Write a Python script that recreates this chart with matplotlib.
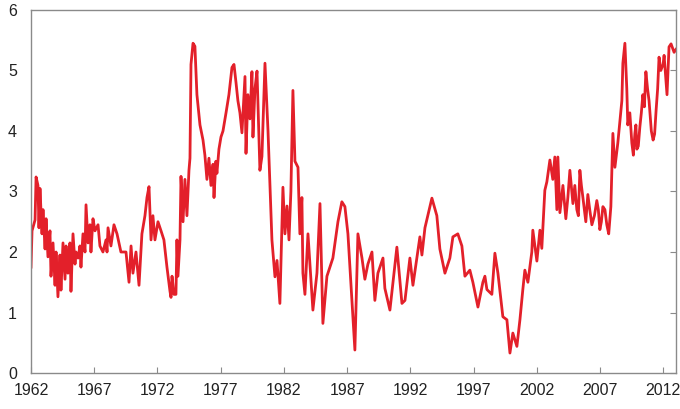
import matplotlib.pyplot as plt

# readings taken off the chart (decimal year, value)
years = [
    1962.00, 1962.08, 1962.32, 1962.40, 1962.55, 1962.63, 1962.71, 1962.87, 1962.95,
    1963.11, 1963.19, 1963.34, 1963.50, 1963.58, 1963.74, 1963.90, 1963.98,
    1964.13, 1964.29, 1964.37, 1964.53, 1964.69, 1964.77, 1964.92,
    1965.08, 1965.16, 1965.32, 1965.48, 1965.56, 1965.72, 1965.87, 1965.95,
    1966.11, 1966.27, 1966.35, 1966.51, 1966.66, 1966.74, 1966.90,
    1967.06, 1967.30, 1967.45, 1967.69, 1967.93,
    1968.01, 1968.09, 1968.32, 1968.56, 1968.80, 1969.11, 1969.51, 1969.75, 1969.91,
    1970.06, 1970.30, 1970.54, 1970.77, 1971.01, 1971.17, 1971.33, 1971.49, 1971.64,
    1971.80, 1972.04, 1972.28, 1972.51, 1972.75, 1972.99, 1973.07, 1973.15, 1973.30,
    1973.46, 1973.54, 1973.62, 1973.78, 1973.86, 1974.02, 1974.17, 1974.33, 1974.49,
    1974.57, 1974.65, 1974.81, 1974.96, 1975.12, 1975.36, 1975.60, 1975.75, 1975.91,
    1976.07, 1976.23, 1976.39, 1976.47, 1976.62, 1976.70, 1976.86, 1977.02, 1977.18,
    1977.42, 1977.65, 1977.89, 1978.05, 1978.21, 1978.36, 1978.52, 1978.68, 1978.92,
    1979.00, 1979.15, 1979.31, 1979.47, 1979.55, 1979.71, 1979.87, 1980.10, 1980.26,
    1980.50, 1980.74, 1980.89, 1981.05, 1981.29, 1981.45, 1981.60, 1981.68, 1981.92,
    1982.08, 1982.24, 1982.40, 1982.55, 1982.71, 1982.87, 1983.11, 1983.26, 1983.42,
    1983.50, 1983.66, 1983.90, 1984.21, 1984.29, 1984.61, 1984.85, 1985.08, 1985.40,
    1985.87, 1986.27, 1986.58, 1986.82, 1987.06, 1987.61, 1987.85, 1988.17, 1988.40,
    1988.64, 1988.96, 1989.19, 1989.43, 1989.83, 1989.98, 1990.38, 1990.93, 1991.33,
    1991.57, 1991.96, 1992.20, 1992.75, 1992.91, 1993.15, 1993.70, 1994.09, 1994.33,
    1994.73, 1995.12, 1995.36, 1995.75, 1996.07, 1996.31, 1996.70, 1996.94, 1997.34,
    1997.73, 1997.89, 1998.05, 1998.44, 1998.68, 1998.92, 1999.31, 1999.63, 1999.87,
    2000.10, 2000.42, 2000.66, 2000.89, 2001.05, 2001.29, 2001.60, 2001.68, 2002.00,
    2002.24, 2002.39, 2002.63, 2002.79, 2003.03, 2003.26, 2003.42, 2003.58, 2003.66,
    2003.82, 2004.06, 2004.29, 2004.45, 2004.61, 2004.85, 2005.00, 2005.16, 2005.28,
    2005.40, 2005.52, 2005.64, 2005.87, 2006.03, 2006.18, 2006.35, 2006.55, 2006.74,
    2006.86, 2006.98, 2007.10, 2007.22, 2007.38, 2007.53, 2007.68, 2007.85, 2008.01,
    2008.17, 2008.40, 2008.72, 2008.80, 2008.96, 2009.11, 2009.19, 2009.35, 2009.51,
    2009.63, 2009.75, 2009.83, 2009.91, 2010.02, 2010.14, 2010.26, 2010.38, 2010.50,
    2010.62, 2010.75, 2010.87, 2011.05, 2011.19, 2011.31, 2011.43, 2011.55, 2011.66,
    2011.80, 2011.98, 2012.06, 2012.18, 2012.29, 2012.45, 2012.61, 2012.85, 2013.00,
]
values = [
    1.75, 2.35, 2.53, 3.24, 3.10, 2.40, 3.05, 2.30, 2.70,
    2.05, 2.55, 1.92, 2.35, 1.60, 2.15, 1.45, 2.00,
    1.26, 1.95, 1.37, 2.15, 1.55, 2.10, 1.65,
    2.15, 1.35, 2.30, 1.80, 2.00, 1.90, 2.10, 1.75,
    2.30, 2.00, 2.78, 2.15, 2.45, 2.00, 2.55,
    2.35, 2.45, 2.10, 2.00, 2.20,
    2.00, 2.40, 2.10, 2.45, 2.30, 2.00, 2.00, 1.50, 2.10,
    1.65, 2.00, 1.45, 2.30, 2.60, 2.90, 3.08, 2.20, 2.60,
    2.20, 2.50, 2.35, 2.20, 1.75, 1.35, 1.25, 1.60, 1.30,
    1.30, 2.20, 1.60, 2.20, 3.25, 2.50, 3.20, 2.60, 3.35,
    3.55, 5.10, 5.45, 5.40, 4.60, 4.10, 3.85, 3.60, 3.20,
    3.55, 3.10, 3.45, 2.90, 3.50, 3.30, 3.70, 3.90, 4.00,
    4.30, 4.60, 5.05, 5.10, 4.80, 4.50, 4.30, 3.97, 4.90,
    3.63, 4.60, 4.20, 4.98, 3.90, 4.70, 4.99, 3.35, 3.58,
    5.12, 4.00, 3.14, 2.20, 1.59, 1.86, 1.40, 1.15, 3.07,
    2.30, 2.76, 2.20, 3.00, 4.67, 3.50, 3.40, 2.30, 2.90,
    1.65, 1.30, 2.30, 1.30, 1.04, 1.65, 2.80, 0.82, 1.60,
    1.90, 2.50, 2.83, 2.75, 2.30, 0.38, 2.30, 1.90, 1.55,
    1.80, 2.00, 1.20, 1.65, 1.90, 1.40, 1.04, 2.08, 1.15,
    1.20, 1.90, 1.45, 2.25, 1.95, 2.40, 2.89, 2.60, 2.05,
    1.65, 1.90, 2.25, 2.30, 2.10, 1.60, 1.70, 1.50, 1.09,
    1.50, 1.60, 1.38, 1.30, 1.98, 1.65, 0.93, 0.88, 0.33,
    0.66, 0.44, 0.88, 1.38, 1.70, 1.50, 2.00, 2.36, 1.85,
    2.36, 2.06, 3.02, 3.16, 3.52, 3.20, 3.57, 2.70, 3.57,
    2.65, 3.10, 2.55, 2.90, 3.35, 2.80, 3.10, 2.70, 2.60,
    3.35, 3.10, 2.90, 2.50, 2.95, 2.70, 2.45, 2.60, 2.85,
    2.70, 2.37, 2.50, 2.75, 2.70, 2.45, 2.30, 2.75, 3.96,
    3.40, 3.80, 4.50, 5.12, 5.45, 4.70, 4.10, 4.30, 3.80,
    3.60, 3.96, 4.10, 3.70, 3.75, 4.06, 4.30, 4.60, 4.40,
    4.98, 4.70, 4.50, 4.00, 3.85, 3.95, 4.35, 4.70, 5.22,
    5.00, 5.10, 5.25, 4.90, 4.60, 5.39, 5.44, 5.30, 5.35,
]
xticks = list(range(1962, 2013, 5))
yticks = [0, 1, 2, 3, 4, 5, 6]

plt.rcParams['font.family'] = ['Liberation Sans', 'DejaVu Sans']

fig = plt.figure(figsize=(6.8, 4.09), dpi=100)
ax = fig.add_axes([0.0456, 0.088, 0.9485, 0.8876])
ax.plot(years, values, color='#e3202a', linewidth=2.0)

ax.set_xlim(1962, 2013)
ax.set_ylim(0, 6)
ax.set_xticks(xticks)
ax.set_xticklabels([str(y) for y in xticks])
ax.set_yticks(yticks)

for s in ax.spines.values():
    s.set_color('#8a8a8a')
    s.set_linewidth(1.0)

ax.tick_params(axis='x', direction='in', length=4, color='#8a8a8a',
               labelsize=11.5, labelcolor='#222222', pad=7)
ax.tick_params(axis='y', direction='in', length=4, color='#8a8a8a',
               left=False, right=True, labelleft=True,
               labelsize=11.5, labelcolor='#222222', pad=10)

fig.savefig('out.png', dpi=100)
